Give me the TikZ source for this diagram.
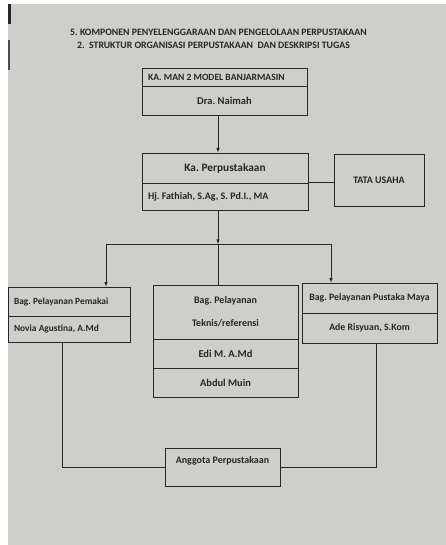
\documentclass[tikz,border=0pt]{standalone}
\usepackage{fontspec}
\setmainfont{Carlito}
\usetikzlibrary{arrows,shapes,positioning}
\definecolor{paper}{RGB}{206,206,202}
\definecolor{ink}{RGB}{38,38,38}
\begin{document}
\frenchspacing
\begin{tikzpicture}[x=1pt,y=1pt,>=latex]
\tikzstyle{every node}+=[inner sep=0pt,text=ink]
\tikzstyle{cell}=[draw=ink,line width=0.8pt,font=\bfseries\fontsize{10}{12}\selectfont,align=center]
\tikzstyle{lcell}=[cell,align=flush left,inner xsep=6pt]
\tikzstyle{link}=[draw=ink,line width=0.6pt]
\useasboundingbox (0,0) rectangle (446,-545);
\fill [white] (0,0) rectangle (446,-545);
\fill [paper] (8,-4) rectangle (446,-545);
\fill [black!85] (8,-4) rectangle (11,-24);
\fill [black!70] (8,-40) rectangle (10,-70);
\draw (218.5,-32) node [font=\bfseries\fontsize{9.8}{11}\selectfont] (title1) {5. KOMPONEN PENYELENGGARAAN DAN PENGELOLAAN PERPUSTAKAAN};
\draw (213.5,-45) node [font=\bfseries\fontsize{9.8}{11}\selectfont] (title2) {2.\ \ STRUKTUR ORGANISASI PERPUSTAKAAN \ DAN DESKRIPSI TUGAS};
\node [lcell,text width=153,minimum height=18,font=\bfseries\fontsize{9.6}{11}\selectfont] (kaman) at (224.5,-77) {KA. MAN 2 MODEL BANJARMASIN};
\node [cell,minimum width=165,minimum height=29,font=\bfseries\fontsize{10.5}{12}\selectfont] (naimah) at (224.5,-100.5) {Dra. Naimah};
\node [cell,minimum width=166,minimum height=30,font=\bfseries\fontsize{11.3}{13}\selectfont] (kapus) at (225,-168) {Ka. Perpustakaan};
\node [lcell,text width=154,minimum height=27] (fathiah) at (225,-196.5) {Hj. Fathiah, S.Ag, S. Pd.I., MA};
\node [cell,minimum width=90,minimum height=52] (tata) at (379,-180) {TATA USAHA};
\node [lcell,text width=110,minimum height=29,font=\bfseries\fontsize{9.4}{11}\selectfont] (pemakai) at (69,-301.5) {Bag. Pelayanan Pemakai};
\node [lcell,text width=110,minimum height=26,font=\bfseries\fontsize{9.4}{11}\selectfont] (novia) at (69,-329) {Novia Agustina, A.Md};
\node [cell,minimum width=145,minimum height=54] (bagtek) at (225.5,-312) {Bag. Pelayanan\\[11pt]Teknis/referensi};
\node [cell,minimum width=145,minimum height=29,font=\bfseries\fontsize{10.5}{12}\selectfont] (edi) at (225.5,-353.5) {Edi M. A.Md};
\node [cell,minimum width=145,minimum height=29,font=\bfseries\fontsize{10.4}{12}\selectfont] (abdul) at (225.5,-382.5) {Abdul Muin};
\node [cell,minimum width=135,minimum height=30,font=\bfseries\fontsize{9.8}{11}\selectfont] (maya) at (369.5,-298) {Bag. Pelayanan Pustaka Maya};
\node [cell,minimum width=135,minimum height=30,font=\bfseries\fontsize{9.8}{11}\selectfont] (ade) at (369.5,-328) {Ade Risyuan, S.Kom};
\node [cell,minimum width=115,minimum height=38] (anggota) at (222.5,-467) {Anggota Perpustakaan\\[3pt]\mbox{}};
\coordinate (bus) at (218,-244);
\coordinate (busL) at (106,-244);
\coordinate (busR) at (331,-244);
\coordinate (lowL) at (62,0);
\coordinate (lowR) at (376,0);
\draw [link,->] (naimah.south -| bus) -- (kapus.north -| bus);
\draw [link,->] (fathiah.south -| bus) -- (bus);
\draw [link] (busL) -- (busR);
\draw [link,->] (busL) -- (pemakai.north -| busL);
\draw [link,->] (busR) -- (maya.north -| busR);
\draw [link] (bus) -- (bagtek.north -| bus);
\draw [link] (fathiah.north east) -- (tata.west |- fathiah.north east);
\draw [link] (novia.south -| lowL) |- (anggota.west);
\draw [link] (ade.south -| lowR) |- (anggota.east);
\end{tikzpicture}
\end{document}
